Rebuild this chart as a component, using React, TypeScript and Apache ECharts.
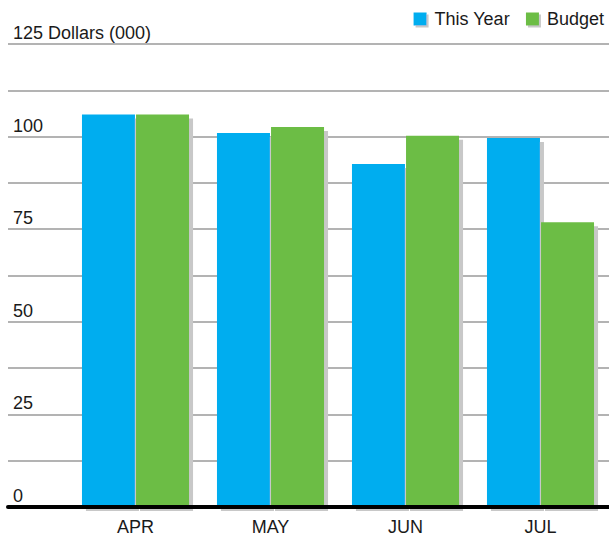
import React, { useEffect, useRef } from "react";
import * as echarts from "echarts";

const categories = ["APR", "MAY", "JUN", "JUL"];
const thisYear = [106, 101, 92.6, 99.6];
const budget = [106, 102.6, 100.2, 76.9];
const seriesNames = ["This Year", "Budget"];
const yTickLabels: Record<number, string> = {
  0: "0",
  25: "25",
  50: "50",
  75: "75",
  100: "100",
  125: "125 Dollars (000)",
};

export default function App() {
  const ref = useRef<HTMLDivElement>(null);
  useEffect(() => {
    if (!ref.current) return;
    const chart = echarts.init(ref.current, undefined, { renderer: "svg" });
    const font = "'Liberation Sans', Arial, sans-serif";
    const shadow = {
      shadowColor: "#c8c8c8",
      shadowBlur: 0,
      shadowOffsetX: 4,
      shadowOffsetY: 4,
    };
    chart.setOption({
      animation: false,
      textStyle: { fontFamily: font },
      legend: {
        right: 0,
        top: 5,
        itemWidth: 13,
        itemHeight: 13,
        itemGap: 16,
        icon: "rect",
        itemStyle: { shadowColor: "#c8c8c8", shadowBlur: 0, shadowOffsetX: 2, shadowOffsetY: 2 },
        textStyle: { fontSize: 18, color: "#1a1a1a", fontFamily: font, padding: [0, 0, 0, 3] },
        data: seriesNames,
      },
      grid: [
        { left: 68, right: 1, top: 44, bottom: 31 },
        { left: 8, right: 0, top: 44, bottom: 31 },
      ],
      xAxis: [
        {
          type: "category",
          gridIndex: 0,
          data: categories,
          axisLine: { show: false },
          axisTick: { show: false },
          axisLabel: { fontSize: 18, color: "#1a1a1a", margin: 11, fontFamily: font },
        },
        {
          type: "value",
          gridIndex: 1,
          min: 0,
          max: 1,
          z: 5,
          axisLine: { show: true, lineStyle: { color: "#000", width: 4 } },
          axisTick: { show: false },
          axisLabel: { show: false },
          splitLine: { show: false },
        },
      ],
      yAxis: [
        {
          type: "value",
          gridIndex: 0,
          min: 0,
          max: 125,
          show: false,
          splitLine: { show: false },
        },
        {
          type: "value",
          gridIndex: 1,
          min: 0,
          max: 125,
          interval: 12.5,
          axisLine: { show: false },
          axisTick: { show: false },
          splitLine: { show: true, lineStyle: { color: "#9a9a9a", width: 1.5 } },
          axisLabel: {
            inside: true,
            margin: 5,
            verticalAlign: "bottom",
            padding: [0, 0, 2, 0],
            fontSize: 18,
            color: "#1a1a1a",
            fontFamily: font,
            formatter: (v: number) => yTickLabels[v] ?? "",
          },
        },
      ],
      series: [
        {
          name: seriesNames[0],
          type: "bar",
          xAxisIndex: 0,
          yAxisIndex: 0,
          data: thisYear,
          barWidth: 53,
          barGap: "2%",
          itemStyle: { color: "#00adef", ...shadow },
        },
        {
          name: seriesNames[1],
          type: "bar",
          xAxisIndex: 0,
          yAxisIndex: 0,
          data: budget,
          barWidth: 53,
          barGap: "2%",
          itemStyle: { color: "#6cbd45", ...shadow },
        },
      ],
    });
    return () => chart.dispose();
  }, []);
  return <div ref={ref} style={{ width: 609, height: 538, position: "absolute", left: 0, top: 0 }} />;
}
